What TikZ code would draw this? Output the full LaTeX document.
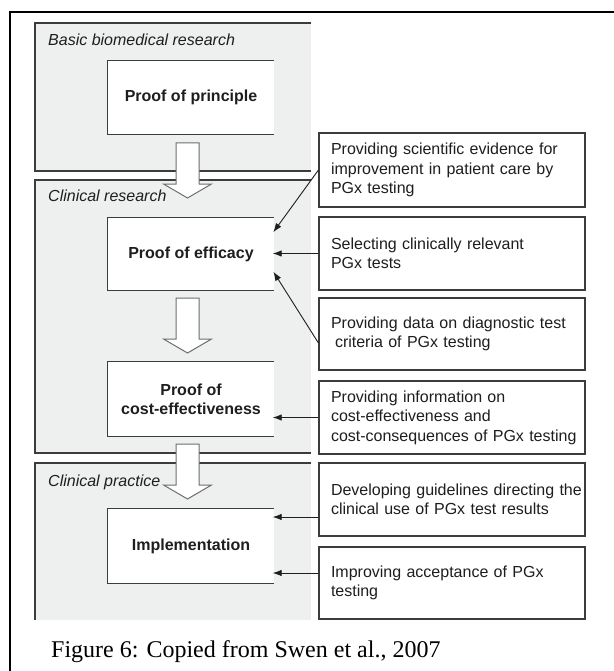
\documentclass[tikz,border=0pt]{standalone}
\usepackage{fontspec}
\setmainfont{Liberation Serif}
\newfontfamily\arialfont{Liberation Sans}
\usetikzlibrary{arrows.meta,calc}
\definecolor{panelgray}{RGB}{238,239,239}
\definecolor{rulegray}{RGB}{60,60,60}
\definecolor{inkgray}{RGB}{30,30,30}
\definecolor{arrowgray}{RGB}{110,110,110}

\begin{document}
\begin{tikzpicture}[x=1pt,y=-1pt,
  panelrule/.style={draw=rulegray, line width=1.2pt},
  stagebox/.style={fill=white, minimum width=166pt, inner sep=0pt, align=center,
    font=\arialfont\bfseries\fontsize{16}{19}\selectfont, text=inkgray},
  notebox/.style={draw=rulegray, line width=1.1pt, fill=white, minimum width=266pt,
    inner xsep=12pt, inner ysep=0pt, text width=242pt, align=left,
    font=\arialfont\fontsize{16}{19.5}\selectfont, text=inkgray},
  phase/.style={anchor=base west, inner sep=0pt,
    font=\arialfont\itshape\fontsize{16}{19}\selectfont, text=inkgray},
  conn/.style={draw=inkgray, line width=0.9pt, shorten >=-1.5pt,
    -{Latex[length=9pt,width=6.5pt]}},
  barrow/.style={draw=arrowgray, fill=white, line width=1pt, line join=miter},
  blockarrow/.pic={
    \draw[barrow] (-11.5,-55) -- (-11.5,-14) -- (-24,-14) -- (0,0)
      -- (24,-14) -- (11.5,-14) -- (11.5,-55) -- cycle;
  }
]
\useasboundingbox (0,0) rectangle (613,671);

% outer frame (runs off the page on the right and bottom)
\draw[line width=1.5pt] (10,690) -- (10,12) -- (630,12);

% phase panels
\fill[panelgray] (35,23) rectangle (311,171);
\draw[panelrule] (311,23) -- (35,23) -- (35,171) -- (311,171);
\fill[panelgray] (35,180) rectangle (311,453);
\draw[panelrule] (311,180) -- (35,180) -- (35,453) -- (311,453);
\fill[panelgray] (35,463) rectangle (311,620);
\draw[panelrule] (311,463) -- (35,463) -- (35,620);

% stage boxes (open on the right)
\node[stagebox, minimum height=73pt] (prin) at (191,97.5) {Proof of principle};
\node[stagebox, minimum height=72pt] (eff) at (191,254) {Proof of efficacy};
\node[stagebox, minimum height=74pt] (cost) at (191,399) {Proof of\\cost-effectiveness};
\node[stagebox, minimum height=74pt] (impl) at (191,546) {Implementation};
\foreach \b in {prin,eff,cost,impl}
  \draw[panelrule] (\b.north east) -- (\b.north west) -- (\b.south west) -- (\b.south east);

% block arrows between stages
\pic (ba1) at (187.5,198) {blockarrow};
\pic (ba2) at (187.5,353) {blockarrow};
\pic (ba3) at (187.5,499) {blockarrow};

% contributing activities
\node[notebox, minimum height=74pt] (r1) at (452,170)
  {\mbox{Providing scientific evidence for}\\\mbox{improvement in patient care by}\\\mbox{PGx testing}};
\node[notebox, minimum height=73pt] (r2) at (452,253.5)
  {\mbox{Selecting clinically relevant}\\\mbox{PGx tests}};
\node[notebox, minimum height=72pt] (r3) at (452,334)
  {\mbox{Providing data on diagnostic test}\\\mbox{\hspace*{4pt}criteria of PGx testing}};
\node[notebox, minimum height=73pt] (r4) at (452,417.5)
  {\mbox{Providing information on}\\\mbox{cost-effectiveness and}\\\mbox{cost-consequences of PGx testing}};
\node[notebox, minimum height=73pt] (r5) at (452,499.5)
  {\mbox{Developing guidelines directing the}\\\mbox{clinical use of PGx test results}};
\node[notebox, minimum height=72pt] (r6) at (452,583)
  {\mbox{Improving acceptance of PGx}\\\mbox{testing}};

% connectors
\coordinate (e1) at ($(eff.east)+(0,-23)$);
\coordinate (s3) at ($(r3.west)+(0,9)$);
\coordinate (e3) at ($(eff.east)+(0,19)$);
\coordinate (s5) at ($(r5.west)+(0,17.5)$);
\coordinate (s6) at ($(r6.west)+(0,-10)$);
\draw[conn] (r1.west) -- (e1);
\draw[conn] (r2.west) -- (r2.west -| eff.east);
\draw[conn] (s3) -- (e3);
\draw[conn] (r4.west) -- (r4.west -| cost.east);
\draw[conn] (s5) -- (s5 -| impl.east);
\draw[conn] (s6) -- (s6 -| impl.east);

% phase labels
\node[phase] (lb1) at (48,46) {Basic biomedical research};
\node[phase] (lb2) at (48,201.5) {Clinical research};
\node[phase] (lb3) at (48,486) {Clinical practice};

% caption
\node[anchor=base west, inner sep=0pt, font=\fontsize{24}{28}\selectfont] (cap)
  at (51,657) {Figure 6: Copied from Swen et al., 2007};
\end{tikzpicture}
\end{document}
